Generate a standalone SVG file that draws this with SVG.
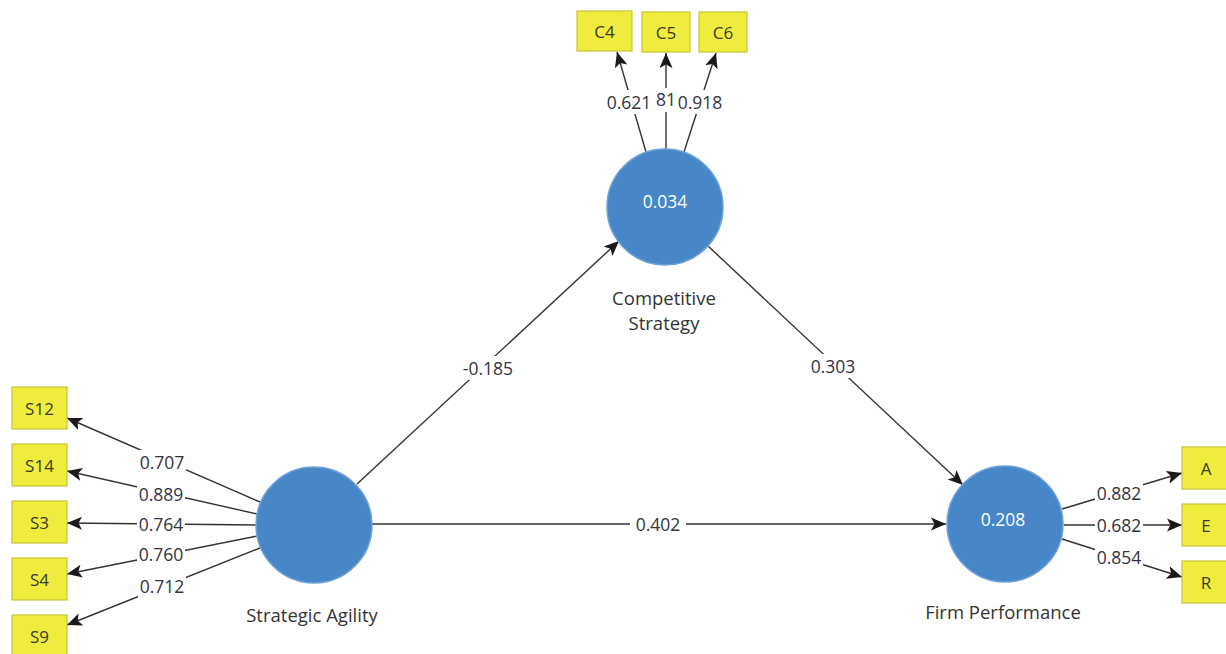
<svg xmlns="http://www.w3.org/2000/svg" width="1226" height="654" viewBox="0 0 1226 654">
<style>
.bg{fill:#ffffff}
.lv{fill:#4787c7;stroke:#6fa3d8;stroke-width:1.5}
.mv rect{fill:#efec3d;stroke:#c9c336;stroke-width:1.2}
.mv text{font-family:"Open Sans","Noto Sans",sans-serif;font-size:17px;fill:#3a3a2a;text-anchor:middle;dominant-baseline:central}
.cap{font-family:"Open Sans","Noto Sans",sans-serif;font-size:18.5px;fill:#333333;text-anchor:middle;dominant-baseline:central}
.val{font-family:"Open Sans","Noto Sans",sans-serif;font-size:17.5px;fill:#ffffff;text-anchor:middle;dominant-baseline:central}
.edge{stroke:#333333;stroke-width:1.4;fill:none;marker-end:url(#ah)}
.lb rect{fill:#ffffff}
.lb text{font-family:"Open Sans","Noto Sans",sans-serif;font-size:17.5px;fill:#333344;text-anchor:middle;dominant-baseline:central}
</style>
<defs>
<marker id="ah" markerUnits="userSpaceOnUse" markerWidth="18" markerHeight="16" refX="15" refY="8" orient="auto">
<path d="M0,1.5 L15,8 L0,14.5 L3.5,8 Z" fill="#1a1a1a"/>
</marker>
</defs>
<rect class="bg" x="0" y="0" width="1226" height="654"/>

<g id="connectors">
<line class="edge" x1="357" y1="484" x2="619" y2="241"/>
<line class="edge" x1="708" y1="246" x2="963" y2="485"/>
<line class="edge" x1="372" y1="524" x2="946" y2="524"/>
<line class="edge" x1="646" y1="152" x2="617" y2="52"/>
<line class="edge" x1="666" y1="149" x2="666" y2="53"/>
<line class="edge" x1="684" y1="152" x2="716" y2="53"/>
<line class="edge" x1="260" y1="502" x2="67" y2="418"/>
<line class="edge" x1="257" y1="514" x2="67" y2="471"/>
<line class="edge" x1="256" y1="525" x2="67" y2="523"/>
<line class="edge" x1="257" y1="536" x2="67" y2="574"/>
<line class="edge" x1="260" y1="548" x2="67" y2="625"/>
<line class="edge" x1="1062" y1="509" x2="1182" y2="473"/>
<line class="edge" x1="1064" y1="525" x2="1182" y2="525"/>
<line class="edge" x1="1062" y1="539" x2="1182" y2="577"/>
</g>

<g id="edge-labels" class="lb">
<rect x="456" y="356" width="64" height="24"/><text x="488" y="368">-0.185</text>
<rect x="806" y="354" width="54" height="24"/><text x="833" y="366">0.303</text>
<rect x="630" y="512" width="56" height="24"/><text x="658" y="524">0.402</text>
<rect x="650" y="88" width="30" height="24"/><text x="666" y="99">81</text>
<rect x="604" y="90" width="49" height="24"/><text x="629" y="102">0.621</text>
<rect x="676" y="90" width="49" height="24"/><text x="700" y="102">0.918</text>
<rect x="138" y="450" width="48" height="24"/><text x="162" y="462">0.707</text>
<rect x="137" y="482" width="48" height="24"/><text x="161" y="494">0.889</text>
<rect x="137" y="512" width="48" height="24"/><text x="161" y="524">0.764</text>
<rect x="137" y="542" width="48" height="24"/><text x="161" y="554">0.760</text>
<rect x="138" y="574" width="48" height="24"/><text x="162" y="586">0.712</text>
<rect x="1095" y="481" width="48" height="24"/><text x="1119" y="493">0.882</text>
<rect x="1095" y="513" width="48" height="24"/><text x="1119" y="525">0.682</text>
<rect x="1095" y="545" width="48" height="24"/><text x="1119" y="557">0.854</text>
</g>

<g id="competitive-strategy">
<circle class="lv" cx="665" cy="207" r="58"/>
<text class="val" x="665" y="201">0.034</text>
<text class="cap" x="664" y="297">Competitive</text>
<text class="cap" x="664" y="322">Strategy</text>
</g>
<g id="strategic-agility">
<circle class="lv" cx="314" cy="525" r="58"/>
<text class="cap" x="312" y="614">Strategic Agility</text>
</g>
<g id="firm-performance">
<circle class="lv" cx="1005" cy="524" r="58"/>
<text class="val" x="1003" y="519">0.208</text>
<text class="cap" x="1003" y="611">Firm Performance</text>
</g>

<g id="C4" class="mv"><rect x="577" y="11" width="55" height="40"/><text x="604.5" y="31">C4</text></g>
<g id="C5" class="mv"><rect x="642" y="12" width="48" height="40"/><text x="666" y="32">C5</text></g>
<g id="C6" class="mv"><rect x="699" y="12" width="48" height="40"/><text x="723" y="32">C6</text></g>

<g id="S12" class="mv"><rect x="12" y="387" width="55" height="42"/><text x="39.5" y="408">S12</text></g>
<g id="S14" class="mv"><rect x="12" y="444" width="55" height="42"/><text x="39.5" y="465">S14</text></g>
<g id="S3" class="mv"><rect x="12" y="501" width="55" height="42"/><text x="39.5" y="522">S3</text></g>
<g id="S4" class="mv"><rect x="12" y="558" width="55" height="42"/><text x="39.5" y="579">S4</text></g>
<g id="S9" class="mv"><rect x="12" y="615" width="55" height="42"/><text x="39.5" y="636">S9</text></g>

<g id="A" class="mv"><rect x="1182" y="447" width="56" height="42"/><text x="1206" y="468">A</text></g>
<g id="E" class="mv"><rect x="1182" y="504" width="56" height="42"/><text x="1206" y="525">E</text></g>
<g id="R" class="mv"><rect x="1182" y="561" width="56" height="42"/><text x="1206" y="582">R</text></g>
</svg>
